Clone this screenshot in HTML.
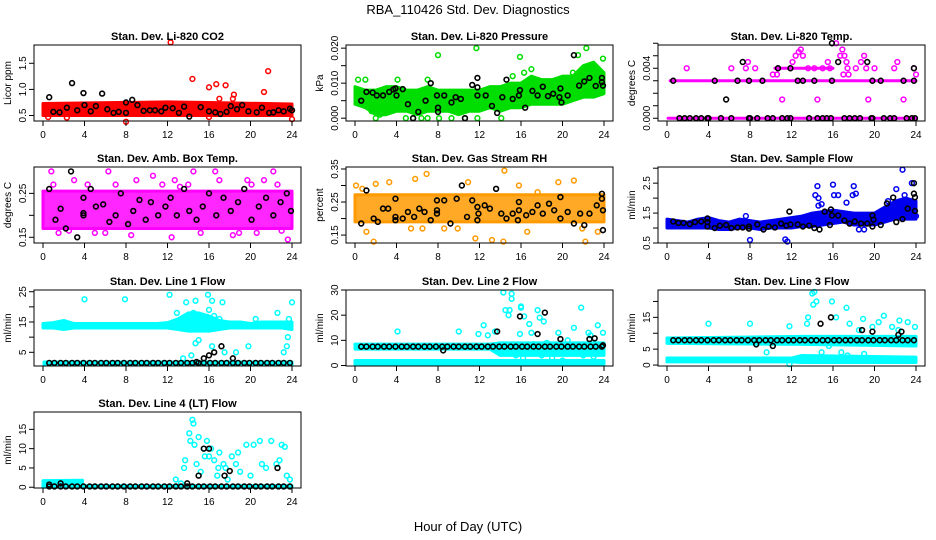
<!DOCTYPE html>
<html><head><meta charset="utf-8"><style>
html,body{margin:0;padding:0;background:#fff;}
svg{display:block;font-family:"Liberation Sans",sans-serif;}
</style></head><body>
<svg id="chart" width="936" height="540" viewBox="0 0 936 540">
<text x="468" y="14" text-anchor="middle" font-size="13">RBA_110426  Std. Dev. Diagnostics</text>
<text x="468" y="531" text-anchor="middle" font-size="13">Hour of Day (UTC)</text>
</svg>
<script>
const xTicks = [0,4,8,12,16,20,24];
const bandHours = [0,1,2,3,4,5,6,7,8,9,10,11,12,13,14,15,16,17,18,19,20,21,22,23,24];
const blkHours = [0.6,1.1,1.7,2.2,2.8,3.3,3.9,4.5,5.0,5.6,6.1,6.7,7.2,7.8,8.4,8.9,9.5,10.0,10.6,11.1,11.7,12.2,12.8,13.3,13.9,14.4,15.0,15.5,16.1,16.6,17.2,17.7,18.3,18.8,19.4,19.9,20.5,21.0,21.6,22.1,22.7,23.2,23.8];

// Panel 1 CO2
const co2BandH=[0,12,16,24], co2Lo=[0.5,0.5,0.5,0.5], co2Hi=[0.73,0.76,0.75,0.72];
const co2OutX=[12.3,14.4,16,16.7,17.6,18.4,18.3,21.3,21.7,8,24,17,16,0.5,2.3];
const co2OutY=[1.9,1.2,1.04,1.1,1.08,0.9,0.82,0.95,1.35,0.38,0.43,0.82,0.47,0.47,0.46];
const co2BlkX=[0.6,2.8,3.9,5.7,8,8.6,14.1,1,1.6,2.3,3.3,4,4.6,5.1,6.2,6.8,7.3,8,9.1,9.7,10.3,10.8,11.4,11.8,12.5,13.1,13.6,15.2,16,16.6,17.1,17.7,18.1,18.7,19.2,19.8,20.6,21.1,21.8,22.2,22.7,23.2,23.8,24];
const co2BlkY=[0.85,1.12,0.93,0.92,0.75,0.8,0.48,0.57,0.56,0.65,0.6,0.7,0.58,0.68,0.62,0.55,0.57,0.55,0.7,0.59,0.6,0.6,0.58,0.65,0.64,0.55,0.67,0.66,0.58,0.56,0.53,0.57,0.68,0.62,0.7,0.58,0.56,0.65,0.55,0.56,0.6,0.58,0.63,0.6];

// Panel 2 Pressure
const prsLo=[0.004,0.003,0.001,0.001,0.002,0.002,0.001,0.002,0.002,0.002,0.001,0.002,0.002,0.003,0.002,0.003,0.003,0.004,0.004,0.004,0.004,0.005,0.006,0.006,0.007];
const prsHi=[0.009,0.008,0.008,0.009,0.009,0.008,0.008,0.009,0.008,0.008,0.008,0.008,0.008,0.009,0.009,0.01,0.01,0.012,0.011,0.011,0.012,0.012,0.015,0.016,0.013];
const prsOutX=[0.3,1,4.1,7,8,11.7,15.9,16.3,17,21.5,22.3,23.9,2,4.9,5.6,6.4,7,8.1,9.3,10.6,11.8,14.1,3.3,15.2,21,1.6,2.4];
const prsOutY=[0.011,0.011,0.011,0.011,0.018,0.020,0.0175,0.013,0.014,0.018,0.020,0.017,0,0,0,0,0,0,0,0,0,0,0.002,0.012,0.013,0.002,0.001];
const prsBlkX=[0.6,1.1,1.7,2.1,2.7,3.3,3.7,3.9,4,4.6,5.1,5.6,6.1,6.8,7.3,7.9,8,8,8.6,9.3,9.7,10.2,10.6,11.3,11.8,11.8,11.8,12.6,13.2,13.7,14.2,14.6,15.2,15.8,15.9,16.4,17.1,17.6,18.1,18.6,19.1,19.7,19.8,19.9,20.5,21.1,21.6,22.1,22.6,23.2,23.8,23.9,23.8];
const prsBlkY=[0.005,0.0075,0.0073,0.0065,0.0065,0.0075,0.0082,0.0085,0.0065,0.0083,0.004,0,0.0018,0.005,0.01,0.0065,0.003,0.0018,0.0065,0.0045,0.006,0.0055,0,0.0095,0.0115,0.0088,0.0065,0.0065,0.0035,0.0015,0.006,0.011,0.0055,0.0065,0.008,0.003,0.0078,0.0065,0.009,0.0063,0.007,0.006,0.0085,0.0045,0.0065,0.018,0.0093,0.0105,0.0115,0.0092,0.0115,0.0093,0.0103];

// Panel 3 Temp
const tmpL0H=[0.1,24], tmpL0=[0,0];
const tmpL3H=[0.3,24], tmpL3=[0.003,0.003];
const tmpL4H=[10.4,16], tmpL4=[0.004,0.004];
const tmpOutX=[1.9,6.2,7.6,7.8,8.5,10.2,10.6,11.1,12.1,12.4,12.7,12.9,13.1,14.5,15.5,15.7,16.3,16.7,17.1,17,17.5,17.3,18.7,19,19.2,19.4,20,21.9,22.2,22.8,24,23.8,17.4,18.2,13.6,14.2,15,16.9];
const tmpOutY=[0.004,0.004,0.004,0.0045,0.004,0.0035,0.0035,0.0015,0.0045,0.005,0.0053,0.0055,0.005,0.0015,0.0045,0.004,0.006,0.005,0.005,0.0035,0.0035,0.0045,0.0045,0.005,0.004,0.0015,0.004,0.004,0.0045,0.0015,0.0035,0.004,0.004,0.004,0.004,0.004,0.004,0.0055];
const tmpBlkX=[0.6,7.3,5.7,11.9,10.7,15.9,16.5,19.3,23.8,4.6,6.8,7.9,9.2,12.6,13.1,14.2,15.9,19.8,20.6,22.8,23.8,1.2,1.7,2.2,2.8,3.3,3.9,4,5.2,6.2,7.9,8,8.7,9.7,10.2,11.1,11.6,11.9,13.7,14.5,15,15.4,15.8,17.1,17.6,18.1,18.6,19.7,19.8,20.9,21.5,21.9,23.1,23.6,23.9];
const tmpBlkY=[0.003,0.0045,0.0015,0.004,0.004,0.006,0.0045,0.0045,0.004,0.003,0.003,0.003,0.003,0.003,0.003,0.003,0.003,0.003,0.003,0.003,0.003,0,0,0,0,0,0,0,0,0,0,0,0,0,0,0,0,0,0,0,0,0,0,0,0,0,0,0,0,0,0,0,0,0,0];

// Panel 4 Amb box temp
const ambBandH=[0,24], ambLo=[0.17,0.17], ambHi=[0.255,0.255];
const ambOutX=[0.8,1.5,2.5,3,5,6.3,7,8.5,9,10.6,12.4,12.7,14,14.5,15.2,17,18.3,19.7,20.6,22.2,23,23.6,21.3,16.6,1,4.3,6,11.5,13.2,18.9,20.1,22.6];
const ambOutY=[0.3,0.16,0.165,0.28,0.16,0.3,0.27,0.155,0.28,0.29,0.15,0.28,0.27,0.3,0.16,0.28,0.155,0.28,0.16,0.3,0.165,0.145,0.28,0.3,0.27,0.27,0.16,0.27,0.265,0.16,0.27,0.27];
const ambBlkX=[0.6,2.7,3.3,1.2,1.7,2.2,3.9,3.9,3.9,4.6,5.1,5.8,6.4,7,7.5,8.2,8.7,9.3,9.9,10.4,11.1,11.8,12.3,12.9,13.6,14.1,14.8,15.4,16,16.7,17.4,18.1,18.8,19.4,20.1,20.8,21.5,22.2,22.9,23.5,23.9];
const ambBlkY=[0.26,0.3,0.15,0.19,0.215,0.17,0.24,0.205,0.2,0.26,0.22,0.225,0.185,0.2,0.25,0.18,0.21,0.235,0.19,0.23,0.2,0.22,0.24,0.2,0.26,0.21,0.19,0.22,0.25,0.2,0.24,0.21,0.23,0.26,0.19,0.22,0.24,0.2,0.23,0.25,0.21];

// Panel 5 RH
const rhBandH=[0,24], rhLo=[0.19,0.19], rhHi=[0.272,0.272];
const rhOutX=[0.1,0.7,1.1,1.8,2,3.3,5.4,5.8,6.5,6.9,8.6,9.9,10.9,11.6,13.2,14.3,14.4,15.8,16.6,17.6,19.6,21.1,22.2,23.4,21.9];
const rhOutY=[0.3,0.29,0.16,0.13,0.305,0.31,0.17,0.32,0.17,0.335,0.17,0.17,0.31,0.14,0.135,0.13,0.345,0.3,0.16,0.28,0.31,0.315,0.13,0.16,0.17];
const rhBlkX=[0.6,1.1,1.8,2.2,2.7,3.2,3.9,3.9,3.9,4.6,5.1,5.7,6.2,6.7,7.3,7.9,7.9,7.9,8.6,9.2,9.8,10.3,10.8,11.3,11.8,11.8,11.9,12.5,13,13.6,14.1,14.6,15.2,15.7,15.8,15.8,16.5,17.1,17.6,18.1,18.7,19.2,19.8,19.8,20.5,21.1,21.7,22.1,22.6,23.3,23.8,23.8,23.9,23.9];
const rhBlkY=[0.185,0.285,0.2,0.19,0.23,0.23,0.26,0.205,0.195,0.2,0.22,0.205,0.23,0.22,0.195,0.255,0.225,0.215,0.255,0.185,0.26,0.3,0.205,0.255,0.235,0.195,0.215,0.24,0.23,0.29,0.215,0.2,0.215,0.195,0.225,0.25,0.21,0.22,0.24,0.215,0.245,0.225,0.265,0.2,0.22,0.185,0.215,0.18,0.215,0.24,0.275,0.26,0.225,0.165];

// Panel 6 Sample flow
const sfLo=[1.0,1.0,1.0,1.0,1.0,0.95,0.95,1.0,1.0,0.95,1.0,1.0,1.0,1.05,1.05,1.1,1.15,1.2,1.1,1.1,1.1,1.2,1.3,1.3,1.3];
const sfHi=[1.3,1.25,1.2,1.3,1.35,1.25,1.2,1.3,1.25,1.2,1.25,1.3,1.35,1.4,1.5,1.55,1.6,1.55,1.5,1.5,1.5,1.7,1.9,2.0,1.9];
const sfOutX=[8,11.4,11.6,14.3,14.5,14.6,14.6,14.9,16,16.1,16.5,17.3,17.9,18,18.2,22.7,23.6,22.1,21.3,24,7.6,18.5,19,22.9];
const sfOutY=[0.6,0.62,0.55,2.1,2.4,2.0,1.75,1.8,2.45,2.1,2.1,1.85,2.1,2.4,2.15,2.95,2.5,2.3,1.9,1.4,1.4,0.95,0.95,2.1];
const sfBlkX=[0.6,1.1,1.6,2.2,2.7,3.3,3.9,3.9,3.9,4.6,5.1,5.7,6.2,6.8,7.3,7.9,7.9,8.7,9.3,9.8,10.4,11,11.5,11.8,11.9,12.6,13.1,13.7,14.2,14.7,15.2,15.7,15.8,15.9,16.5,17.1,17.6,18.1,18.7,19.3,19.8,19.8,19.9,20.6,21.2,21.8,22.1,22.7,23.2,23.8,23.8,23.9,23.9];
const sfBlkY=[1.22,1.17,1.17,1.13,1.2,1.22,1.32,1.2,1.05,1.0,1.08,1.1,1.0,1.02,1.02,1.05,0.98,1.12,0.95,1.05,1.02,1.15,1.08,1.55,1.12,1.12,1.05,1.08,1.0,0.95,1.55,1.1,1.62,1.42,1.42,1.25,1.15,1.22,1.15,1.15,1.42,1.05,1.28,1.1,1.82,2.02,1.2,1.3,1.65,2.5,2.15,2.03,1.57];

// Panel 7 Line 1
const l1UpLo=[13,13,12.5,13,13,13,13,13,13,13,13,13,13,12.5,12,12,12,12.5,13,13,13,13,13,13,12.5];
const l1UpHi=[14.5,14.8,15.5,14.5,14.5,14.5,14.5,14.5,14.5,14.5,14.5,14.5,14.8,16,18,18,17,15.5,15,15,14.5,15,15,15,15];
const l1LowH=[0.1,24], l1LowLo=[0.9,0.9], l1LowHi=[1.8,1.8];
const l1OutX=[4,7.9,12.2,13.8,14.7,15.9,16.3,17.3,14.5,15.3,16,16.5,17,12.9,14.7,15,16.3,17.5,14.3,23.6,23.5,23.2,24,22.6,23.7,20.5,13.5,18.6,19.8];
const l1OutY=[22.5,22.5,24,21.5,22,24,22,21.5,18,17,19,17,16,18,8,9,7,5,4,10,7,5,21.5,18,16,16,3,5,7];
const l1BlkLevel=[1.5];
const l1BlkX=[14.8,15.5,16.5,17.2,18.3,16];
const l1BlkY=[1.8,3,5,7,3,4];

// Panel 8 Line 2
const l2UpH=[0,13,14,24], l2UpLo=[6.5,6.5,4,4], l2UpHi=[8.5,8.5,9,9];
const l2LowH=[0,24], l2LowLo=[0.5,0.5], l2LowHi=[2,2];
const l2OutX=[4.1,10,11.9,12.4,13.5,14.3,14.5,14.8,14.9,15.1,15.1,15.9,16,16,16.3,16.8,17,17.6,17.8,18.2,19.6,20.5,21.1,21.8,22.5,22.7,23.4,23.9,15.5,16.2,17.5,18,19,20,22,23,12.8,17.2,18.5];
const l2OutY=[13.5,13.5,12.5,16,13.5,29,22,20,22,28.5,26.5,12.5,23.5,23,19.5,16.5,13,22,19,17.5,13,10,15,23,13,12,16,13,4,3,5,4,3,2,4,3.5,12,8.5,9];
const l2BlkLevel=[7.5];
const l2BlkX=[8.5,13.7,15.9,17.6,18.3,19.8,22.6,23.1,23.9];
const l2BlkY=[6,13.5,19.5,12.5,21,10.5,10.5,10.8,8];

// Panel 9 Line 3
const l3UpH=[0,13,24], l3UpLo=[6.8,6.5,6], l3UpHi=[8.5,9,9];
const l3LowH=[0,12,13,24], l3LowLo=[1,1,0.8,0.8], l3LowHi=[2.2,2.2,3,2.5];
const l3OutX=[4,8,11.8,13.6,13.5,14,14.2,14.1,14.4,15.9,16.3,17.3,17.6,18.9,19.8,20.4,20.9,22.4,23.2,23.9,18.5,9.6,14.9,15.6,16.8,17.4,19,22.3,21.7,11.8];
const l3OutY=[13,13,12.2,15,13,22.5,23,19,20,20,15,18,13,14.5,12,13.5,15.5,14,13.5,12,11,4,4,6,4,3,3.5,11,12,0.3];
const l3BlkLevel=[7.8];
const l3BlkX=[14.8,15.8,18.8,19.8,22.3,22.6,10.2,8.6];
const l3BlkY=[13,15,11,10.5,9.5,10.5,6,6.5];

// Panel 10 Line 4
const l4aH=[0,3.8], l4aLo=[0.3,0.3], l4aHi=[1.7,1.8];
const l4bH=[0,24], l4bLo=[0,0], l4bHi=[0.4,0.4];
const l4OutX=[14.1,14.5,14.4,14.2,14.6,15,15.5,15.8,16.2,16,16.5,17,17.4,17.6,18.2,18.6,19,19.6,20.3,20.9,21.1,22,22.8,23,23.3,23.5,23.8,13.7,13.6,14.8,15.2,16.8,17.8,18.8,12.8,13.3,15.6,16.9,20,21.5,22.5];
const l4OutY=[14,16.5,17.5,12,11,13,10,12,10,8,7,9,6,5,8,6,4,11,11,12,6,12,7,11,10.5,3,2,7,5,6,4,3,2,9,2,1,8,5,3,5,6];
const l4BlkLevel=[0.2];
const l4BlkX=[15.5,16,17.5,18,22.6,13.9,15,1.7,0.6];
const l4BlkY=[10,10,3,4.2,5,1,3,1,0.7];

const NS="http://www.w3.org/2000/svg";
const svg=document.getElementById('chart');
function mk(tag,attrs,parent){const e=document.createElementNS(NS,tag);for(const k in attrs)e.setAttribute(k,attrs[k]);(parent||svg).appendChild(e);return e;}

const colL=[34,346,658], rowT=[45,167,290,412], W=267, H=76;
function panel(o){
  const L=colL[o.c], T=rowT[o.r];
  const g=mk('g',{});
  
  
  const xs=h=>L+9+h*(W-18)/24;
  const ys=v=>T+H-(v-o.ylo)*H/(o.yhi-o.ylo);
  const plot=mk('g',{},g);
  (o.bands||[]).forEach(b=>{
    let pts=[];
    for(let i=0;i<b.h.length;i++)pts.push(xs(b.h[i])+','+ys(b.hi[i]));
    for(let i=b.h.length-1;i>=0;i--)pts.push(xs(b.h[i])+','+ys(b.lo[i]));
    const p=mk('polygon',{points:pts.join(' '),fill:o.col,'fill-opacity':o.op||1,stroke:o.col,'stroke-width':3,'stroke-linejoin':'round'},plot);
    
    
  });
  (o.ox||[]).forEach((x,i)=>{
    const c=mk('circle',{cx:xs(x),cy:ys(o.oy[i]),r:2.4,fill:'none',stroke:o.col,'stroke-width':1.5},plot);
    
    
  });
  if(o.blvl){blkHours.forEach(h=>{
    const c=mk('circle',{cx:xs(h),cy:ys(o.blvl[0]),r:2.4,fill:'none',stroke:'#000','stroke-width':1.6},plot);
    
    
  });}
  (o.bx||[]).forEach((x,i)=>{
    const c=mk('circle',{cx:xs(x),cy:ys(o.by[i]),r:2.4,fill:'none',stroke:'#000','stroke-width':1.6},plot);
    
    
  });
  const bx=mk('rect',{x:L,y:T,width:W,height:H,fill:'none',stroke:'#000','stroke-width':1},g);
  
  
  mk('line',{x1:xs(0),x2:xs(24),y1:T+H,y2:T+H,stroke:'#000'},g);
  xTicks.forEach(t=>{
    mk('line',{x1:xs(t),x2:xs(t),y1:T+H,y2:T+H+5,stroke:'#000'},g);
    const tx=mk('text',{x:xs(t),y:T+H+17,'text-anchor':'middle','font-size':10},g);tx.textContent=t;
    
    
  });
  o.yt.forEach((t,i)=>{
    const y=ys(t);
    mk('line',{x1:L-5,x2:L,y1:y,y2:y,stroke:'#000'},g);
    if(o.yl[i]!==''){
      const tx=mk('text',{x:L-8,y:y,'text-anchor':'middle','font-size':10,transform:`rotate(-90 ${L-8} ${y})`},g);tx.textContent=o.yl[i];
      
      
    }
  });
  mk('line',{x1:L,x2:L,y1:ys(o.yt[0]),y2:ys(o.yt[o.yt.length-1]),stroke:'#000'},g);
  const yl=mk('text',{x:L-23,y:T+H/2,'text-anchor':'middle','font-size':10,transform:`rotate(-90 ${L-23} ${T+H/2})`},g);yl.textContent=o.ylab;
  
  
  const ti=mk('text',{x:L+W/2,y:T-5,'text-anchor':'middle','font-size':11,'font-weight':'bold'},g);ti.textContent=o.title;
  
  
}

panel({name:'co2-panel',r:0,c:0,ylo:0.395,yhi:1.85,col:'#ff0000',title:'Stan. Dev. Li-820 CO2',ylab:'Licor ppm',yt:[0.5,1.0,1.5],yl:['0.5','1.0','1.5'],
 bands:[{h:co2BandH,lo:co2Lo,hi:co2Hi}],ox:co2OutX,oy:co2OutY,bx:co2BlkX,by:co2BlkY});
panel({name:'pressure-panel',r:0,c:1,ylo:-0.0008,yhi:0.0209,col:'#00dd00',title:'Stan. Dev. Li-820 Pressure',ylab:'kPa',yt:[0,0.005,0.01,0.015,0.02],yl:['0.000','','0.010','','0.020'],
 bands:[{h:bandHours,lo:prsLo,hi:prsHi}],ox:prsOutX,oy:prsOutY,bx:prsBlkX,by:prsBlkY});
panel({name:'temp-panel',r:0,c:2,ylo:-0.00022,yhi:0.00586,col:'#ff00ff',title:'Stan. Dev. Li-820 Temp.',ylab:'degrees C',yt:[0,0.001,0.002,0.003,0.004,0.005,0.006],yl:['0.000','','','','0.004','',''],
 bands:[{h:tmpL0H,lo:tmpL0,hi:tmpL0},{h:tmpL3H,lo:tmpL3,hi:tmpL3},{h:tmpL4H,lo:tmpL4,hi:tmpL4}],ox:tmpOutX,oy:tmpOutY,bx:tmpBlkX,by:tmpBlkY});
panel({name:'amb-box-temp-panel',r:1,c:0,ylo:0.137,yhi:0.31,col:'#ff00ff',op:0.85,title:'Stan. Dev. Amb. Box Temp.',ylab:'degrees C',yt:[0.15,0.2,0.25],yl:['0.15','','0.25'],
 bands:[{h:ambBandH,lo:ambLo,hi:ambHi}],ox:ambOutX,oy:ambOutY,bx:ambBlkX,by:ambBlkY});
panel({name:'rh-panel',r:1,c:1,ylo:0.126,yhi:0.356,col:'#ff9a00',op:0.85,title:'Stan. Dev. Gas Stream RH',ylab:'percent',yt:[0.15,0.2,0.25,0.3,0.35],yl:['0.15','','0.25','','0.35'],
 bands:[{h:rhBandH,lo:rhLo,hi:rhHi}],ox:rhOutX,oy:rhOutY,bx:rhBlkX,by:rhBlkY});
panel({name:'sample-flow-panel',r:1,c:2,ylo:0.5,yhi:3.04,col:'#0000ee',title:'Stan. Dev. Sample Flow',ylab:'ml/min',yt:[0.5,1,1.5,2,2.5,3],yl:['0.5','','1.5','','2.5',''],
 bands:[{h:bandHours,lo:sfLo,hi:sfHi}],ox:sfOutX,oy:sfOutY,bx:sfBlkX,by:sfBlkY});
panel({name:'line1-panel',r:2,c:0,ylo:0.48,yhi:25.56,col:'#00ffff',title:'Stan. Dev. Line 1 Flow',ylab:'ml/min',yt:[5,10,15,20,25],yl:['5','','15','','25'],
 bands:[{h:bandHours,lo:l1UpLo,hi:l1UpHi},{h:l1LowH,lo:l1LowLo,hi:l1LowHi}],ox:l1OutX,oy:l1OutY,blvl:l1BlkLevel,bx:l1BlkX,by:l1BlkY});
panel({name:'line2-panel',r:2,c:1,ylo:-0.2,yhi:30,col:'#00ffff',title:'Stan. Dev. Line 2 Flow',ylab:'ml/min',yt:[0,10,20,30],yl:['0','10','20','30'],
 bands:[{h:l2UpH,lo:l2UpLo,hi:l2UpHi},{h:l2LowH,lo:l2LowLo,hi:l2LowHi}],ox:l2OutX,oy:l2OutY,blvl:l2BlkLevel,bx:l2BlkX,by:l2BlkY});
panel({name:'line3-panel',r:2,c:2,ylo:-0.3,yhi:23.6,col:'#00ffff',title:'Stan. Dev. Line 3 Flow',ylab:'ml/min',yt:[0,5,10,15,20],yl:['0','5','','15',''],
 bands:[{h:l3UpH,lo:l3UpLo,hi:l3UpHi},{h:l3LowH,lo:l3LowLo,hi:l3LowHi}],ox:l3OutX,oy:l3OutY,blvl:l3BlkLevel,bx:l3BlkX,by:l3BlkY});
panel({name:'line4-panel',r:3,c:0,ylo:-0.2,yhi:19.5,col:'#00ffff',title:'Stan. Dev. Line 4 (LT) Flow',ylab:'ml/min',yt:[0,5,10,15],yl:['0','5','10','15'],
 bands:[{h:l4aH,lo:l4aLo,hi:l4aHi},{h:l4bH,lo:l4bLo,hi:l4bHi}],ox:l4OutX,oy:l4OutY,blvl:l4BlkLevel,bx:l4BlkX,by:l4BlkY});
</script>
</body></html>
